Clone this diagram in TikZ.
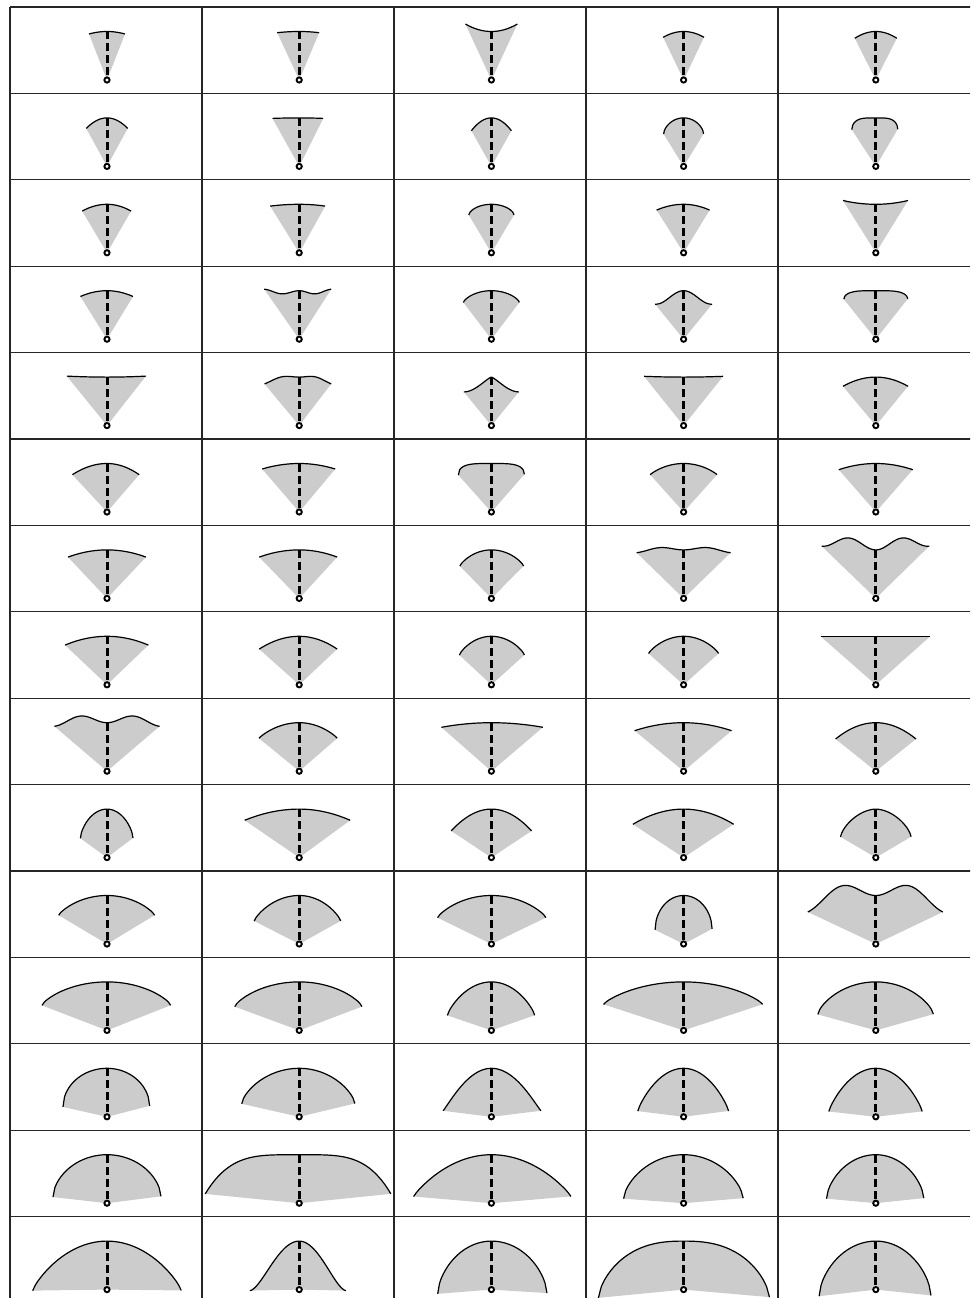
\documentclass[tikz,border=0pt]{standalone}
\usepackage{tikz}
\definecolor{fanGray}{RGB}{204,204,204}

\begin{document}
\begin{tikzpicture}[
  x=1pt, y=-1pt,
  gridline/.style={line width=1.3pt, draw=black!85},
  fan/.style={fill=fanGray},
  rim/.style={line width=1.2pt, line join=round},
  spoke/.style={line width=3pt, dash pattern=on 8pt off 4pt},
  pivot/.style={line width=1.9pt, fill=white}
]
  \clip (0,0) rectangle (970,1298);
  % table lines
  \foreach \k in {0,...,14}
    \draw[gridline] (10,{7+86.4*\k}) -- (980,{7+86.4*\k});
  \foreach \xx in {10,202,394,586,778}
    \draw[gridline] (\xx,7) -- (\xx,1310);
  % one fan per cell: row/col/left width/right width/end height/p/q/wave
  \foreach \r/\c/\wl/\wr/\ye/\p/\q/\h in {
    1/1/18/18/46/2/1/0, 1/2/22/20/47.3/2/1/0, 1/3/26/26/56/2/1/0,
    1/4/20.4/20.4/42.7/2/1/0, 1/5/21/21/41.7/2/1/0,
    2/1/20.7/20.7/38/2/1/0, 2/2/26.7/24/48/2/1/0, 2/3/20/20/35.7/2/1/0,
    2/4/20/20/32.3/2/0.6/0, 2/5/24/22/36.7/4/0.5/0,
    3/1/24.8/24.1/41.7/2/1/0, 3/2/29/26/46.7/2/1/0, 3/3/22.6/22.6/37.7/2/0.6/0,
    3/4/27/26/42.7/2/1/0, 3/5/32.8/32.2/52.3/2/1/0,
    4/1/26.6/26/42.7/2/1/0, 4/2/35/32/50/2/1/-3.5, 4/3/28/28/36.7/2/0.7/0,
    4/4/28.5/28.5/35/2/2.5/0, 4/5/32/32/40/4/0.5/0,
    5/1/40.2/39/49.5/2/1/0, 5/2/34.7/32/41.7/2/1/2, 5/3/27.5/27.5/33.7/1.3/2/0,
    5/4/39.6/39.6/49.3/2/1/0, 5/5/32.8/32.2/39.3/2/1/0,
    6/1/34.6/32.2/37.3/2/1/0, 6/2/37/36/43/2/1/0, 6/3/33/33/36.7/4/0.4/0,
    6/4/33.4/33.4/37.3/2/0.9/0, 6/5/37/37/42.3/2/1/0,
    7/1/39/39/41.3/2/1/0, 7/2/40/38/41.3/2/1/0, 7/3/31.5/32.2/32.3/2/0.8/0,
    7/4/47/47/45.7/2/1/3, 7/5/54.2/53.5/52.3/2/1/11,
    8/1/42/41.4/39.7/2/1/0, 8/2/40/38/35.7/2/1/0, 8/3/32/33/29.7/2/0.8/0,
    8/4/35/35/31.3/2/0.85/0, 8/5/55.3/54.5/48.5/2/1/0,
    9/1/52.6/52.6/44.9/2/1/7.6, 9/2/40.2/38/32.9/2/0.9/0, 9/3/50/51.5/43.9/2/1/0,
    9/4/49/48/40.5/2/1/0, 9/5/40.2/40.2/32.2/2/1/0,
    10/1/26.6/26/19.3/2/0.65/0, 10/2/54.5/51/37.3/2/1/0, 10/3/40.2/40.2/26.7/2/1/0,
    10/4/50.7/50.1/33.3/2/1/0, 10/5/35.3/35.3/20.7/1.8/0.7/0,
    11/1/48.3/47.6/28.7/2/0.8/0, 11/2/45/41.5/23/2/0.8/0, 11/3/53.8/54.5/26.3/2/0.8/0,
    11/4/28.5/28.5/14/2/0.5/0, 11/5/68/67/32/2/1/13.8,
    12/1/65/63.7/25/2/0.75/0, 12/2/64.4/62.8/23.7/2/0.75/0, 12/3/44/43.3/15/2/0.8/0,
    12/4/80/79/26/2/0.8/0, 12/5/58/57.6/16/2/0.7/0,
    13/1/44/42.7/9.7/2/0.5/0, 13/2/57.5/55.7/13/2/0.68/0, 13/3/48.3/49.5/6/2/1.1/0,
    13/4/45.8/45/5.7/2/0.85/0, 13/5/47/46.4/5.3/2/0.85/0,
    14/1/54/54/6/2/0.56/0, 14/2/94/91.7/9.3/4/1/0, 14/3/77.8/79.6/6.7/2/0.9/0,
    14/4/60/59.6/4.5/2/0.64/0, 14/5/49.3/48/4.5/2/0.62/0,
    15/1/74.3/74.3/-1/2/0.83/0, 15/2/49.3/46.7/-1/2/1.7/0, 15/3/53.7/55.6/-4.3/2/0.6/0,
    15/4/85.2/85.9/-8.3/2.5/0.65/0, 15/5/56.7/55.2/-6.7/2/0.6/0}
  {
    \begin{scope}[shift={({107+192.2*(\c-1)},{80+86.4*(\r-1)})}]
      \fill[fan] (0,0) -- plot[domain=-1:1, samples=60, variable=\s]
        ({ifthenelse(\s<0,\wl,\wr)*\s},
         {-(\ye+(48.5-\ye)*max(1-abs(\s)^\p,0.00001)^\q+(\h)*sin(180*abs(\s))^2)}) -- cycle;
      \draw[rim] plot[domain=-1:1, samples=60, variable=\s]
        ({ifthenelse(\s<0,\wl,\wr)*\s},
         {-(\ye+(48.5-\ye)*max(1-abs(\s)^\p,0.00001)^\q+(\h)*sin(180*abs(\s))^2)});
      \draw[spoke] (0,-48.5) -- (0,-2.6);
      \draw[pivot] (0,0) circle[radius=2.6];
    \end{scope}
  }
\end{tikzpicture}
\end{document}
